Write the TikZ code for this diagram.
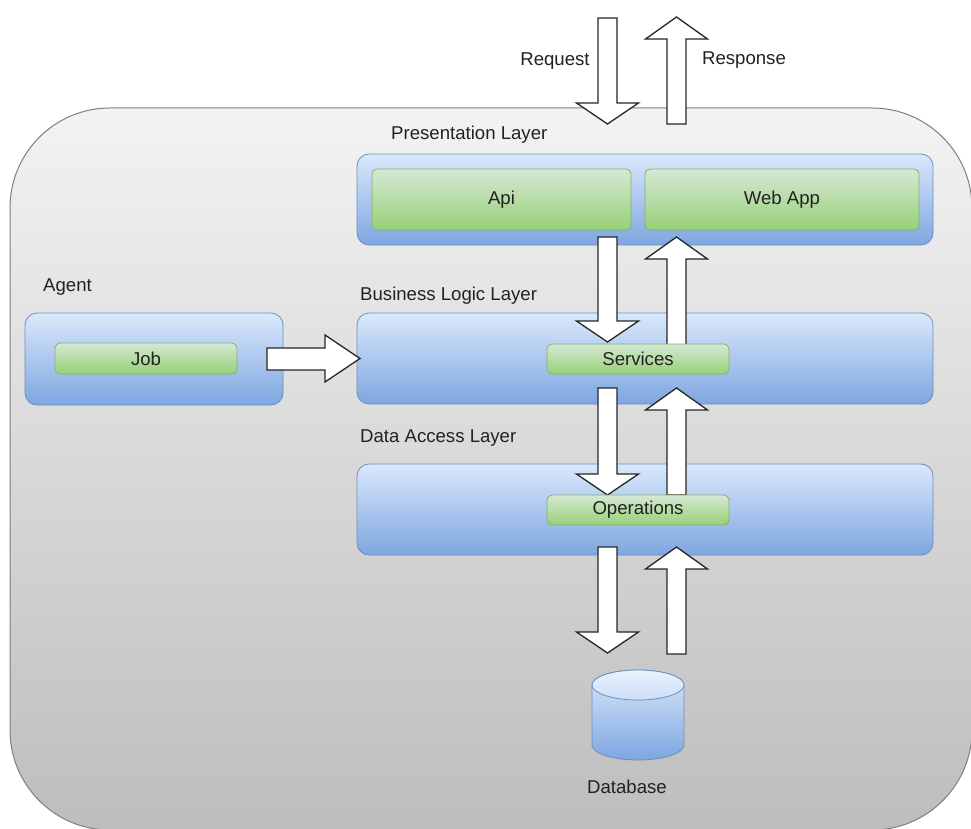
\documentclass[tikz,border=0pt]{standalone}
\usepackage{fontspec}
\setmainfont{Liberation Sans}
\definecolor{bluetop}{HTML}{DAE8FC}
\definecolor{bluebot}{HTML}{7EA6E0}
\definecolor{blueborder}{HTML}{6C8EBF}
\definecolor{greentop}{HTML}{D5E8D4}
\definecolor{greenbot}{HTML}{97D077}
\definecolor{greenborder}{HTML}{82B366}
\definecolor{outertop}{HTML}{F3F3F3}
\definecolor{outerbot}{HTML}{BDBDBD}
\definecolor{outerborder}{HTML}{7F7F7F}
\definecolor{txt}{HTML}{222222}
\newcommand{\blkdown}[3]{%
  \draw[blockarrow] ({#1-9.5},#2) -- ({#1+9.5},#2) -- ({#1+9.5},{#3-21}) -- ({#1+31},{#3-21}) -- (#1,#3) -- ({#1-31},{#3-21}) -- ({#1-9.5},{#3-21}) -- cycle;}
\newcommand{\blkup}[3]{%
  \draw[blockarrow] ({#1-9.5},#2) -- ({#1+9.5},#2) -- ({#1+9.5},{#3+22}) -- ({#1+31},{#3+22}) -- (#1,#3) -- ({#1-31},{#3+22}) -- ({#1-9.5},{#3+22}) -- cycle;}
\tikzset{
  lbl/.style={font=\fontsize{18.6}{21}\selectfont, text=txt, inner sep=0pt},
  layerbox/.style={draw=blueborder, line width=0.8pt, rounded corners=12pt, top color=bluetop, bottom color=bluebot, inner sep=0pt},
  greenbox/.style={draw=greenborder, line width=0.8pt, rounded corners=5pt, top color=greentop, bottom color=greenbot, inner sep=0pt, font=\fontsize{18.6}{21}\selectfont, text=txt},
  blockarrow/.style={draw=black!85, fill=white, line width=1.3pt, line join=miter},
}
\begin{document}
\begin{tikzpicture}[x=1pt,y=-1pt]
\useasboundingbox (0,0) rectangle (971,829);
\fill[white] (0,0) rectangle (971,829);
% outer container
\draw[draw=outerborder, line width=1pt, top color=outertop, bottom color=outerbot, rounded corners=100pt] (10,108) rectangle (972,830);

% request / response
\blkdown{607.5}{18}{124}
\blkup{676.5}{124}{17}
\node[lbl] (req) at (555,61) {Request};
\node[lbl] (resp) at (744,60) {Response};

% presentation layer
\node[lbl, anchor=west] (preslbl) at (391,135) {Presentation Layer};
\node[layerbox, minimum width=576pt, minimum height=91pt] (pres) at (645,199.5) {};
\node[greenbox, minimum width=259pt, minimum height=61pt] (api) at (501.5,199.5) {Api};
\node[greenbox, minimum width=274pt, minimum height=61pt] (web) at (782,199.5) {Web App};

% business logic layer
\node[lbl, anchor=west] (blllbl) at (360,296) {Business Logic Layer};
\node[layerbox, minimum width=576pt, minimum height=91pt] (bll) at (645,358.5) {};

% agent
\node[lbl, anchor=west] (agentlbl) at (43,287) {Agent};
\node[layerbox, minimum width=258pt, minimum height=92pt] (agent) at (154,359) {};
\node[greenbox, minimum width=182pt, minimum height=31pt] (job) at (146,358.5) {Job};

% data access layer
\node[lbl, anchor=west] (dallbl) at (360,438) {Data Access Layer};
\node[layerbox, minimum width=576pt, minimum height=91pt] (dal) at (645,509.5) {};

% arrows between layers
\blkdown{607.5}{237}{342}
\blkup{676.5}{345}{237}
\blkdown{607.5}{388}{495}
\blkup{676.5}{495}{388}
\blkdown{607.5}{547}{653}
\blkup{676.5}{654}{547}

% job -> business logic
\draw[blockarrow] (267,348) -- (325,348) -- (325,335) -- (360,358.5) -- (325,382) -- (325,370) -- (267,370) -- cycle;

\node[greenbox, minimum width=182pt, minimum height=30pt] (services) at (638,359) {Services};
\node[greenbox, minimum width=182pt, minimum height=30pt] (ops) at (638,510) {Operations};

% database
\path[draw=blueborder, line width=0.8pt, top color=bluetop, bottom color=bluebot]
  (592,685) -- (592,745) arc[start angle=180, end angle=0, x radius=46, y radius=15]
  -- (684,685) arc[start angle=0, end angle=-180, x radius=46, y radius=15] -- cycle;
\path[draw=blueborder, line width=0.8pt, top color=bluetop!60!white, bottom color=bluetop!85!bluebot]
  (638,685) ellipse[x radius=46, y radius=15];
\node[lbl] (db) at (627,787) {Database};
\end{tikzpicture}
\end{document}
